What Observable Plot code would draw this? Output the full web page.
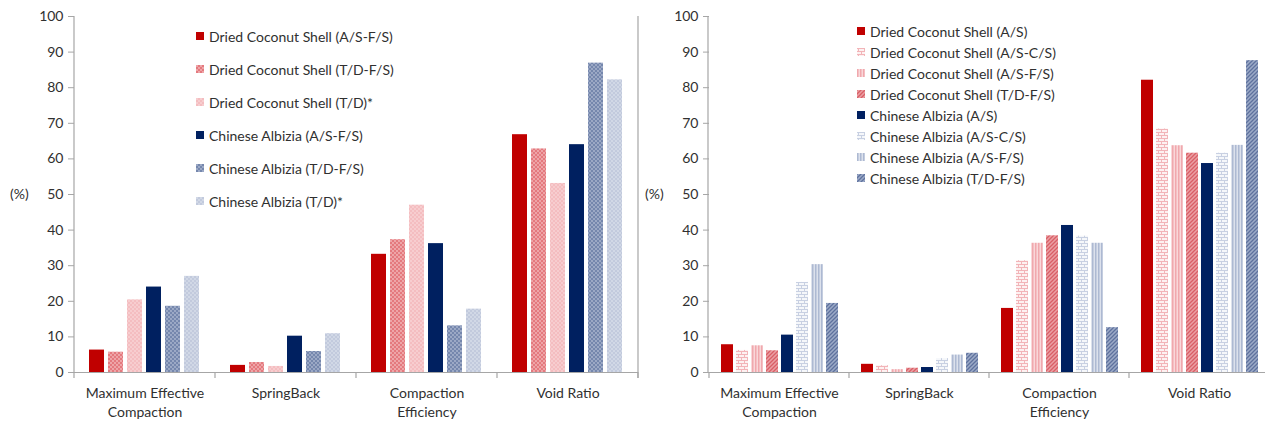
<!DOCTYPE html>
<html>
<head>
<meta charset="utf-8">
<script src="https://cdn.jsdelivr.net/npm/d3@7"></script>
<script src="https://cdn.jsdelivr.net/npm/@observablehq/plot@0.6"></script>
<style>
  html, body { margin: 0; padding: 0; background: #fff; }
  body { width: 1265px; height: 422px; position: relative; overflow: hidden; font-family: Lato, "Open Sans", sans-serif; color: #303030; }
  .panel { position: absolute; top: 0; height: 422px; overflow: hidden; }
  .panel > svg { max-width: none !important; }
  .ylab { position: absolute; font-size: 14px; }
  .legend { position: absolute; font-size: 14px; }
  .legend .row { position: absolute; white-space: nowrap; display: flex; align-items: center; }
  .legend svg { margin-right: 5px; }
</style>
</head>
<body>
<svg width="0" height="0" style="position:absolute">
  <defs>
    <pattern id="dcsTDFS" width="4" height="4" patternUnits="userSpaceOnUse">
      <rect width="4" height="4" fill="#E4797E"/>
      <circle cx="1" cy="1" r="0.9" fill="#F6C9CB" opacity="0.8"/>
      <circle cx="3" cy="3" r="0.9" fill="#F6C9CB" opacity="0.8"/>
    </pattern>
    <pattern id="dcsTD" width="4" height="4" patternUnits="userSpaceOnUse">
      <rect width="4" height="4" fill="#F4BDC0"/>
      <circle cx="1" cy="1" r="0.8" fill="#FBE3E4"/>
      <circle cx="3" cy="3" r="0.8" fill="#FBE3E4"/>
    </pattern>
    <pattern id="caTDFS" width="4" height="4" patternUnits="userSpaceOnUse">
      <rect width="4" height="4" fill="#7587AD"/>
      <circle cx="1" cy="1" r="0.9" fill="#BCC6DA" opacity="0.8"/>
      <circle cx="3" cy="3" r="0.9" fill="#BCC6DA" opacity="0.8"/>
    </pattern>
    <pattern id="caTD" width="4" height="4" patternUnits="userSpaceOnUse">
      <rect width="4" height="4" fill="#C2CADD"/>
      <circle cx="1" cy="1" r="0.8" fill="#E6EAF2"/>
      <circle cx="3" cy="3" r="0.8" fill="#E6EAF2"/>
    </pattern>
    <pattern id="dcsASCS" width="6" height="6" patternUnits="userSpaceOnUse">
      <rect width="6" height="6" fill="#FDF1F1"/>
      <path d="M0 0.5H6M0 3.5H6M1.5 0V3M4.5 3V6" stroke="#F2B4B8" stroke-width="1"/>
    </pattern>
    <pattern id="dcsASFS" width="3" height="3" patternUnits="userSpaceOnUse">
      <rect width="3" height="3" fill="#F9D7D9"/>
      <rect width="1.5" height="3" fill="#F0A8AD"/>
    </pattern>
    <pattern id="dcsTDFS2" width="4" height="4" patternUnits="userSpaceOnUse">
      <rect width="4" height="4" fill="#EBA0A4"/>
      <path d="M-1 1L1 -1M0 4L4 0M3 5L5 3" stroke="#D95F66" stroke-width="1.3"/>
    </pattern>
    <pattern id="caASCS" width="6" height="6" patternUnits="userSpaceOnUse">
      <rect width="6" height="6" fill="#F5F7FA"/>
      <path d="M0 0.5H6M0 3.5H6M1.5 0V3M4.5 3V6" stroke="#C8D0E2" stroke-width="1"/>
    </pattern>
    <pattern id="caASFS" width="3" height="3" patternUnits="userSpaceOnUse">
      <rect width="3" height="3" fill="#DCE1EC"/>
      <rect width="1.5" height="3" fill="#ADB9D2"/>
    </pattern>
    <pattern id="caTDFS2" width="4" height="4" patternUnits="userSpaceOnUse">
      <rect width="4" height="4" fill="#9DABC8"/>
      <path d="M-1 1L1 -1M0 4L4 0M3 5L5 3" stroke="#5F729E" stroke-width="1.3"/>
    </pattern>
  </defs>
</svg>

<div class="panel" id="left" style="left:0;width:640px"></div>
<div class="panel" id="right" style="left:640px;width:625px"></div>
<div class="ylab" style="left:10px;top:185px">(%)</div>
<div class="ylab" style="left:645px;top:185px">(%)</div>
<div class="legend" id="legL"></div>
<div class="legend" id="legR"></div>

<script>
// ---------- data ----------
const categories = ["Maximum Effective\nCompaction", "SpringBack", "Compaction\nEfficiency", "Void Ratio"];
const yTicks = [0, 10, 20, 30, 40, 50, 60, 70, 80, 90, 100];

// Left chart
const leftSeries = [
  "Dried Coconut Shell (A/S-F/S)",
  "Dried Coconut Shell (T/D-F/S)",
  "Dried Coconut Shell (T/D)*",
  "Chinese Albizia (A/S-F/S)",
  "Chinese Albizia (T/D-F/S)",
  "Chinese Albizia (T/D)*"
];
const leftFills = ["#C00000", "url(#dcsTDFS)", "url(#dcsTD)", "#002060", "url(#caTDFS)", "url(#caTD)"];
const leftMEC  = [6.3, 5.7, 20.4, 24.0, 18.6, 27.0];
const leftSB   = [2.0, 2.8, 1.7, 10.2, 5.9, 10.9];
const leftCE   = [33.2, 37.3, 47.0, 36.2, 13.1, 17.8];
const leftVR   = [66.8, 62.8, 53.1, 64.0, 86.9, 82.2];

// Right chart
const rightSeries = [
  "Dried Coconut Shell (A/S)",
  "Dried Coconut Shell (A/S-C/S)",
  "Dried Coconut Shell (A/S-F/S)",
  "Dried Coconut Shell (T/D-F/S)",
  "Chinese Albizia (A/S)",
  "Chinese Albizia (A/S-C/S)",
  "Chinese Albizia (A/S-F/S)",
  "Chinese Albizia (T/D-F/S)"
];
const rightFills = ["#C00000", "url(#dcsASCS)", "url(#dcsASFS)", "url(#dcsTDFS2)", "#002060", "url(#caASCS)", "url(#caASFS)", "url(#caTDFS2)"];
const rightMEC = [7.8, 6.2, 7.5, 6.1, 10.5, 25.3, 30.3, 19.4];
const rightSB  = [2.3, 1.9, 0.8, 1.2, 1.4, 3.9, 4.9, 5.4];
const rightCE  = [18.0, 31.4, 36.3, 38.4, 41.3, 38.3, 36.3, 12.6];
const rightVR  = [82.1, 68.4, 63.7, 61.6, 58.7, 61.6, 63.8, 87.6];

// ---------- build ----------
function rowsOf(series, groups) {
  const rows = [];
  categories.forEach((c, ci) => series.forEach((s, si) => rows.push({cat: c, series: s, value: groups[ci][si]})));
  return rows;
}

const AXIS = "#A6A6A6";

function makeChart(opts) {
  const {series, fills, groups, width, marginLeft, marginRight, outer, rightBorder} = opts;
  const fillOf = Object.fromEntries(series.map((s, i) => [s, fills[i]]));
  const rows = rowsOf(series, groups);
  const chart = Plot.plot({
    width, height: 422,
    marginLeft, marginRight, marginTop: 16, marginBottom: 50,
    style: {fontFamily: "Lato, 'Open Sans', sans-serif", fontSize: "14px", color: "#303030", background: "transparent", maxWidth: "none"},
    fx: {domain: categories, padding: 0},
    x: {domain: series, paddingInner: 0.2, paddingOuter: outer, axis: null},
    y: {domain: [0, 100]},
    color: {type: "identity"},
    marks: [
      Plot.axisY({ticks: yTicks, tickSize: 6, tickPadding: 5, stroke: AXIS, label: null, fill: "#303030"}),
      Plot.axisFx({anchor: "bottom", tickSize: 0, tickPadding: 13, lineHeight: 1.3, label: null, fill: "#303030"}),
      Plot.barY(rows, {fx: "cat", x: "series", y: "value", fill: d => fillOf[d.series]}),
      Plot.ruleY([0], {stroke: AXIS, strokeWidth: 1.2})
    ]
  });
  const svg = d3.select(chart);
  const y = chart.scale("y");
  const fx = chart.scale("fx");
  const y0 = y.apply(0), y100 = y.apply(100);
  svg.append("line").attr("x1", marginLeft).attr("x2", marginLeft)
    .attr("y1", y0).attr("y2", y100).attr("stroke", AXIS).attr("stroke-width", 1.2);
  const bounds = categories.map(c => fx.apply(c)).concat([fx.apply(categories[categories.length - 1]) + fx.bandwidth]);
  bounds.forEach(bx => {
    svg.append("line").attr("x1", bx).attr("x2", bx).attr("y1", y0).attr("y2", y0 + 6)
      .attr("stroke", AXIS).attr("stroke-width", 1.2);
  });
  if (rightBorder) {
    const bx = width - marginRight;
    svg.append("line").attr("x1", bx).attr("x2", bx).attr("y1", y100).attr("y2", y0 + 6)
      .attr("stroke", AXIS).attr("stroke-width", 1.2);
  }
  return chart;
}

document.getElementById("left").appendChild(makeChart({
  series: leftSeries, fills: leftFills, groups: [leftMEC, leftSB, leftCE, leftVR],
  width: 640, marginLeft: 74, marginRight: 2, outer: 0.8, rightBorder: true
}));
document.getElementById("right").appendChild(makeChart({
  series: rightSeries, fills: rightFills, groups: [rightMEC, rightSB, rightCE, rightVR],
  width: 630, marginLeft: 68, marginRight: 0, outer: 0.65, rightBorder: false
}));

// ---------- legends ----------
function legend(id, series, fills, left, top, step) {
  const el = document.getElementById(id);
  el.style.left = left + "px";
  el.style.top = "0px";
  series.forEach((s, i) => {
    const row = document.createElement("div");
    row.className = "row";
    row.style.left = "0px";
    row.style.top = (top + i * step - 9) + "px";
    row.style.height = "18px";
    row.innerHTML = `<svg width="8" height="8"><rect width="8" height="8" fill="${fills[i]}"/></svg><span>${s}</span>`;
    el.appendChild(row);
  });
}
legend("legL", leftSeries, leftFills, 196, 36, 33);
legend("legR", rightSeries, rightFills, 857, 31, 21);
</script>
</body>
</html>
